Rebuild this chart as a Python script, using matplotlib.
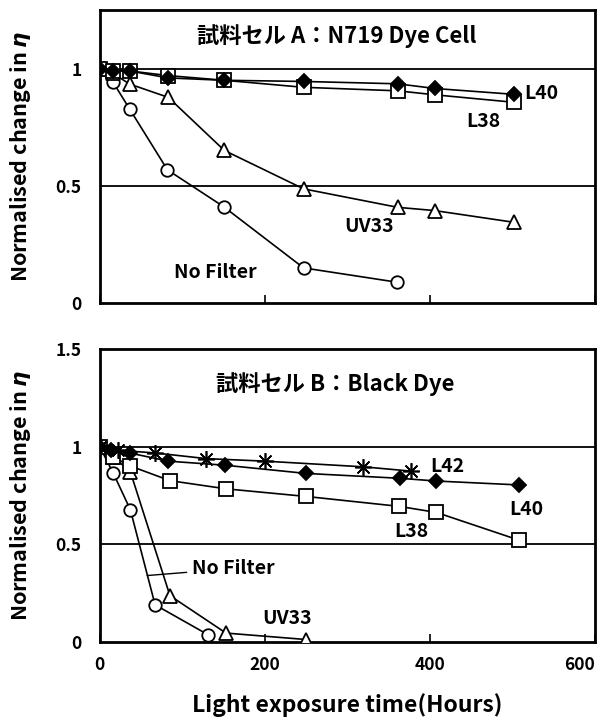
import numpy as np
import matplotlib
matplotlib.use('Agg')
from matplotlib import pyplot as plt

plt.rcParams['font.family'] = ['Noto Sans CJK JP', 'DejaVu Sans']
plt.rcParams['font.weight'] = 'bold'

# panel A : N719 dye cell
a_l40_x = [0, 16, 36, 83, 151, 247, 361, 406, 502]
a_l40_y = [1.0, 0.99, 0.99, 0.96, 0.95, 0.945, 0.935, 0.915, 0.89]
a_l38_x = [0, 16, 36, 83, 151, 247, 361, 406, 502]
a_l38_y = [1.0, 0.99, 0.99, 0.97, 0.95, 0.92, 0.905, 0.888, 0.856]
a_uv33_x = [0, 16, 36, 83, 151, 247, 361, 406, 502]
a_uv33_y = [1.0, 0.98, 0.934, 0.877, 0.65, 0.486, 0.407, 0.393, 0.343]
a_nof_x = [0, 16, 36, 82, 150, 247, 360]
a_nof_y = [1.0, 0.942, 0.828, 0.567, 0.41, 0.148, 0.087]

# panel B : black dye cell
b_l42_x = [0, 22, 67, 129, 200, 319, 377]
b_l42_y = [1.0, 0.983, 0.969, 0.94, 0.927, 0.898, 0.876]
b_l40_x = [0, 14, 36, 83, 152, 250, 364, 408, 508]
b_l40_y = [1.0, 0.983, 0.969, 0.927, 0.906, 0.864, 0.839, 0.825, 0.805]
b_l38_x = [0, 16, 37, 85, 153, 250, 363, 408, 508]
b_l38_y = [1.0, 0.949, 0.902, 0.827, 0.785, 0.746, 0.695, 0.664, 0.522]
b_uv33_x = [0, 16, 37, 85, 153, 250]
b_uv33_y = [1.0, 0.95, 0.873, 0.237, 0.045, 0.012]
b_nof_x = [0, 16, 37, 67, 131]
b_nof_y = [1.0, 0.868, 0.678, 0.19, 0.037]

x_ticks = [0, 200, 400, 600]

fig = plt.figure(figsize=(6.05, 7.22), dpi=100)
ax1 = fig.add_axes([0.165, 0.581, 0.818, 0.405])
ax2 = fig.add_axes([0.165, 0.111, 0.818, 0.405])

lw = 1.2
def series(ax, x, y, marker, face, ms):
    ax.plot(x, y, color='black', lw=lw, marker=marker, ms=ms,
            mfc=face, mec='black', mew=1.3, zorder=3)

series(ax1, a_nof_x, a_nof_y, 'o', 'white', 9)
series(ax1, a_uv33_x, a_uv33_y, '^', 'white', 10)
series(ax1, a_l38_x, a_l38_y, 's', 'white', 9.5)
series(ax1, a_l40_x, a_l40_y, 'D', 'black', 7)

series(ax2, b_nof_x, b_nof_y, 'o', 'white', 9)
series(ax2, b_uv33_x, b_uv33_y, '^', 'white', 10)
series(ax2, b_l38_x, b_l38_y, 's', 'white', 9.5)
series(ax2, b_l40_x, b_l40_y, 'D', 'black', 7)
ax2.plot(b_l42_x, b_l42_y, color='black', lw=lw, marker=(8, 2, 0), ms=12,
         mec='black', mew=1.2, zorder=3)

for ax, top in [(ax1, 1.25), (ax2, 1.5)]:
    ax.set_xlim(0, 600)
    ax.set_ylim(0, top)
    for y in [0.5, 1.0]:
        ax.axhline(y, color='black', lw=1.3, zorder=1)
    for s in ax.spines.values():
        s.set_linewidth(2)
    ax.set_xticks(x_ticks)
    yt = [0, 0.5, 1] if top < 1.4 else [0, 0.5, 1, 1.5]
    ax.set_yticks(yt)
    ax.set_yticklabels(['%g' % v for v in yt])
    ax.tick_params(axis='x', direction='in', length=6, width=1.2, labelsize=12.5, pad=10)
    ax.tick_params(axis='y', length=0, labelsize=12.5, pad=13)
    ax.set_ylabel('Normalised change in $\\eta$', fontsize=15.5, fontweight='bold')
    ax.yaxis.set_label_coords(-0.135, 0.5)

ax1.tick_params(axis='x', labelbottom=False)
ax2.set_xticklabels([str(v) for v in x_ticks])
ax2.get_xticklabels()[-1].set_ha('right')
ax2.set_xlabel('Light exposure time(Hours)', fontsize=16.5, fontweight='bold',
               labelpad=14)

kw = dict(fontsize=14, fontweight='bold', ha='center', va='center')
ax1.text(287, 1.137, '試料セル A：N719 Dye Cell', fontsize=16, fontweight='bold',
         ha='center', va='center')
ax1.text(535, 0.894, 'L40', **kw)
ax1.text(465, 0.775, 'L38', **kw)
ax1.text(327, 0.325, 'UV33', **kw)
ax1.text(140, 0.13, 'No Filter', **kw)

ax2.text(285, 1.32, '試料セル B：Black Dye', fontsize=16, fontweight='bold',
         ha='center', va='center')
ax2.text(421, 0.898, 'L42', **kw)
ax2.text(517, 0.678, 'L40', **kw)
ax2.text(378, 0.567, 'L38', **kw)
ax2.text(227, 0.118, 'UV33', **kw)
ax2.annotate('No Filter', xy=(54, 0.339), xytext=(112, 0.376), fontsize=14,
             fontweight='bold', ha='left', va='center',
             arrowprops=dict(arrowstyle='-', color='black', lw=1.0))

fig.savefig('out.png', dpi=100)
